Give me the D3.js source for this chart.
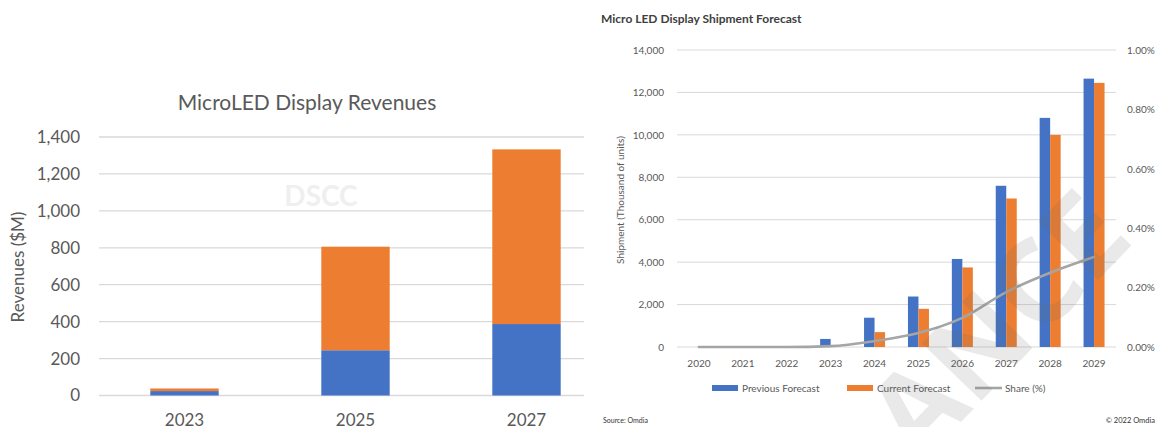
<!DOCTYPE html>
<html>
<head>
<meta charset="utf-8">
<script src="https://cdn.jsdelivr.net/npm/d3@7"></script>
<style>
  html, body { margin: 0; padding: 0; background: #fff; }
  svg { display: block; font-family: Lato, "Open Sans", sans-serif; }
</style>
</head>
<body>
<div class="wrapper"></div>
<script>
//====================DATA===================

const revYears = ['2023', '2025', '2027']
const revBlue = [24, 245, 387]
const revOrange = [14, 561, 946]
const revTicks = [0, 200, 400, 600, 800, 1000, 1200, 1400]

const shipYears = ['2020', '2021', '2022', '2023', '2024', '2025', '2026', '2027', '2028', '2029']
const prevForecast = [0, 0, 0, 380, 1380, 2380, 4150, 7600, 10800, 12650]
const currForecast = [0, 0, 0, 0, 700, 1800, 3750, 7000, 10000, 12450]
const sharePct = [0, 0, 0, 0.00003, 0.0002, 0.00047, 0.00098, 0.00185, 0.0025, 0.00303]
const shipTicks = [0, 2000, 4000, 6000, 8000, 10000, 12000, 14000]
const shareTicks = [0, 0.002, 0.004, 0.006, 0.008, 0.01]

//====================STRUCTURE===================

const width = 1157
const height = 427

const blue = '#4472c4'
const orange = '#ed7d31'
const grey = '#a5a5a5'
const gridColor = '#d9d9d9'
const tickColor = '#595959'

const svg = d3.select('.wrapper')
.append('svg')
.attr('width', width)
.attr('height', height)

//================LEFT: REVENUES======================================

const x = d3.scaleBand()
.domain(revYears)
.range([99, 612])
.paddingInner(0.6)
.paddingOuter(0.3)

const y = d3.scaleLinear()
.domain([0, 1400])
.range([395.5, 137])

const left = svg.append('g').attr('class', 'revenues')

left.append('g')
.selectAll('line')
.data(revTicks)
.enter()
.append('line')
.attr('x1', 99)
.attr('x2', 584)
.attr('y1', d => y(d))
.attr('y2', d => y(d))
.attr('stroke', gridColor)
.attr('stroke-width', 1.3)

left.append('text')
.attr('x', 321)
.attr('y', 206)
.attr('text-anchor', 'middle')
.attr('font-size', 28)
.attr('font-weight', 'bold')
.attr('fill', '#efefef')
.text('DSCC')

left.append('g')
.selectAll('rect')
.data(revYears)
.enter()
.append('rect')
.attr('x', d => x(d))
.attr('width', x.bandwidth())
.attr('y', (d, i) => y(revBlue[i]))
.attr('height', (d, i) => y(0) - y(revBlue[i]))
.attr('fill', blue)

left.append('g')
.selectAll('rect')
.data(revYears)
.enter()
.append('rect')
.attr('x', d => x(d))
.attr('width', x.bandwidth())
.attr('y', (d, i) => y(revBlue[i] + revOrange[i]))
.attr('height', (d, i) => y(revBlue[i]) - y(revBlue[i] + revOrange[i]))
.attr('fill', orange)

const yAxisL = left.append('g')
.attr('transform', 'translate(86,0)')
.call(d3.axisLeft(y).tickValues(revTicks).tickSize(0).tickPadding(6).tickFormat(d3.format(',')))

yAxisL.select('.domain').remove()
yAxisL.selectAll('text')
.attr('font-size', 17)
.attr('fill', tickColor)
.attr('font-family', 'Lato, sans-serif')

// year labels sit at the very bottom edge, as in the source
left.append('g')
.selectAll('text')
.data(revYears)
.enter()
.append('text')
.attr('x', d => x(d) + x.bandwidth() / 2)
.attr('y', 426)
.attr('text-anchor', 'middle')
.attr('font-size', 17)
.attr('fill', tickColor)
.text(d => d)

left.append('text')
.attr('transform', 'translate(24,267) rotate(-90)')
.attr('text-anchor', 'middle')
.attr('font-size', 17)
.attr('fill', tickColor)
.text('Revenues ($M)')

left.append('text')
.attr('x', 307)
.attr('y', 110)
.attr('text-anchor', 'middle')
.attr('font-size', 21)
.attr('fill', tickColor)
.text('MicroLED Display Revenues')

//================RIGHT: SHIPMENTS======================================

const x0 = d3.scaleBand()
.domain(shipYears)
.range([677, 1116])

const groupW = x0.step() / 2.09

const x1 = d3.scaleBand()
.domain(['prev', 'curr'])
.range([0, groupW])

const y1 = d3.scaleLinear()
.domain([0, 14000])
.range([347, 50])

const y2 = d3.scaleLinear()
.domain([0, 0.01])
.range([347, 50])

const right = svg.append('g').attr('class', 'shipments')

right.append('text')
.attr('x', 601)
.attr('y', 23)
.attr('font-size', 12)
.attr('font-weight', 'bold')
.attr('fill', '#404040')
.text('Micro LED Display Shipment Forecast')

right.append('g')
.selectAll('line')
.data(shipTicks)
.enter()
.append('line')
.attr('x1', 677)
.attr('x2', 1116)
.attr('y1', d => y1(d))
.attr('y2', d => y1(d))
.attr('stroke', gridColor)
.attr('stroke-width', 1)

const cx = d => x0(d) + x0.bandwidth() / 2

const groups = right.append('g')
.selectAll('g')
.data(shipYears)
.enter()
.append('g')
.attr('transform', d => `translate(${cx(d) - groupW / 2},0)`)

groups.append('rect')
.attr('x', x1('prev'))
.attr('width', x1.bandwidth())
.attr('y', (d, i) => y1(prevForecast[i]))
.attr('height', (d, i) => y1(0) - y1(prevForecast[i]))
.attr('fill', blue)

groups.append('rect')
.attr('x', x1('curr'))
.attr('width', x1.bandwidth())
.attr('y', (d, i) => y1(currForecast[i]))
.attr('height', (d, i) => y1(0) - y1(currForecast[i]))
.attr('fill', orange)

const line = d3.line()
.x((d, i) => cx(shipYears[i]))
.y(d => y2(d))
.curve(d3.curveMonotoneX)

right.append('path')
.datum(sharePct)
.attr('d', line)
.attr('fill', 'none')
.attr('stroke', grey)
.attr('stroke-width', 2.6)
.attr('stroke-linecap', 'round')

const yAxisR1 = right.append('g')
.attr('transform', 'translate(664,0)')
.call(d3.axisLeft(y1).tickValues(shipTicks).tickSize(0).tickPadding(0).tickFormat(d3.format(',')))

const yAxisR2 = right.append('g')
.attr('transform', 'translate(1127,0)')
.call(d3.axisRight(y2).tickValues(shareTicks).tickSize(0).tickPadding(0).tickFormat(d3.format('.2%')))

;[yAxisR1, yAxisR2].forEach(a => {
	a.select('.domain').remove()
	a.selectAll('text')
	.attr('font-size', 10)
	.attr('fill', tickColor)
	.attr('font-family', 'Lato, sans-serif')
})

right.append('g')
.selectAll('text')
.data(shipYears)
.enter()
.append('text')
.attr('x', d => cx(d))
.attr('y', 367)
.attr('text-anchor', 'middle')
.attr('font-size', 10)
.attr('fill', tickColor)
.text(d => d)

right.append('text')
.attr('transform', 'translate(624,200) rotate(-90)')
.attr('text-anchor', 'middle')
.attr('font-size', 10)
.attr('fill', tickColor)
.text('Shipment (Thousand of units)')

//================LEGEND======================================

const legend = right.append('g')

const legendItems = [
	{label: 'Previous Forecast', color: blue, x: 712, type: 'rect'},
	{label: 'Current Forecast', color: orange, x: 847, type: 'rect'},
	{label: 'Share (%)', color: grey, x: 975, type: 'line'}
]

legendItems.forEach(d => {
	if (d.type === 'rect') {
		legend.append('rect')
		.attr('x', d.x)
		.attr('y', 385)
		.attr('width', 26)
		.attr('height', 6)
		.attr('fill', d.color)
	} else {
		legend.append('line')
		.attr('x1', d.x)
		.attr('x2', d.x + 27)
		.attr('y1', 388)
		.attr('y2', 388)
		.attr('stroke', d.color)
		.attr('stroke-width', 2.6)
	}
	legend.append('text')
	.attr('x', d.x + 30)
	.attr('y', 392)
	.attr('font-size', 10)
	.attr('fill', tickColor)
	.text(d.label)
})

right.append('text')
.attr('x', 603)
.attr('y', 423)
.attr('font-size', 7)
.attr('fill', '#333')
.text('Source: Omdia')

right.append('text')
.attr('x', 1155)
.attr('y', 423)
.attr('text-anchor', 'end')
.attr('font-size', 7.5)
.attr('fill', '#333')
.text('© 2022 Omdia')

// diagonal watermark over the right chart
right.append('text')
.attr('transform', 'translate(995,322) rotate(-46)')
.attr('text-anchor', 'middle')
.attr('dominant-baseline', 'central')
.attr('font-size', 116)
.attr('font-weight', 'bold')
.attr('font-family', '"Open Sans", sans-serif')
.attr('fill', 'rgba(110,110,110,0.15)')
.text('ANCE')
</script>
</body>
</html>
